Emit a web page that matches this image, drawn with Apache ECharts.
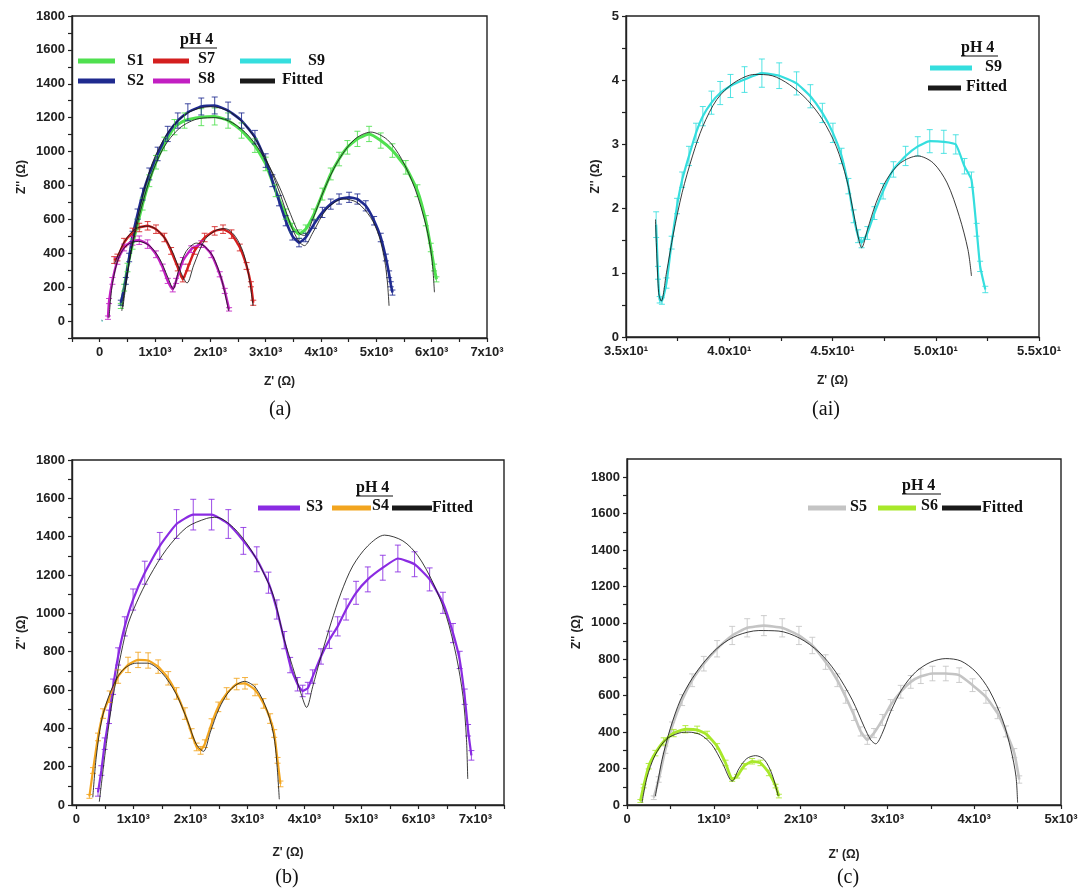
<!DOCTYPE html>
<html><head><meta charset="utf-8">
<script src="https://cdn.jsdelivr.net/npm/echarts@6/dist/echarts.min.js"></script>
<style>html,body{margin:0;padding:0;background:#fff}#c{width:1083px;height:893px}</style>
</head><body><div id="c"></div>
<script>
// ---------- Panel (a) data: [Z', Z'', error] ----------
const S1 = [[382,89,15],[442,197,20],[503,316,25],[594,454,30],[685,572,30],[776,690,35],[897,828,35],[1018,937,40],[1170,1045,40],[1352,1144,45],[1533,1183,45],[1836,1203,50],[2079,1207,50],[2321,1183,45],[2564,1124,45],[2806,1035,40],[3000,927,40],[3181,769,35],[3362,631,30],[3482,552,25],[3603,513,25],[3724,542,25],[3874,631,30],[4025,749,35],[4176,868,35],[4327,956,40],[4477,1025,40],[4658,1075,45],[4869,1104,45],[5080,1065,45],[5291,1006,40],[5532,907,40],[5743,769,35],[5894,592,30],[5984,434,25],[6044,316,20],[6086,246,15]];
const S2 = [[382,108,15],[473,237,20],[533,375,25],[594,500,30],[685,631,30],[776,749,35],[897,868,35],[1048,986,40],[1230,1104,45],[1412,1183,45],[1594,1232,50],[1836,1266,50],[2079,1272,50],[2321,1242,50],[2564,1183,45],[2806,1085,40],[3000,947,40],[3121,828,35],[3241,710,30],[3362,592,30],[3482,503,25],[3603,463,25],[3724,493,25],[3874,572,25],[4025,641,30],[4176,690,30],[4327,720,30],[4508,730,30],[4658,720,30],[4809,680,30],[4960,592,25],[5080,493,25],[5171,375,20],[5231,276,20],[5261,217,15],[5291,168,15]];
const S7 = [[262,360,20],[321,375,20],[442,463,25],[594,523,25],[715,552,25],[867,562,25],[1018,542,25],[1170,493,25],[1291,414,20],[1412,316,20],[1503,246,15],[1594,316,20],[1715,414,20],[1897,493,25],[2079,532,25],[2230,542,25],[2382,513,25],[2533,434,20],[2655,325,20],[2733,217,15],[2776,108,15]];
const S8 = [[150,20,10],[170,118,15],[230,237,20],[321,355,20],[442,434,20],[594,473,25],[715,477,25],[867,454,25],[1018,394,20],[1139,316,20],[1230,237,15],[1321,187,15],[1382,237,15],[1503,355,20],[1655,424,20],[1836,454,20],[2018,394,20],[2170,276,15],[2261,178,15],[2339,69,10]];
const F1 = [[400,60],[520,330],[700,600],[900,830],[1150,1020],[1450,1140],[1800,1195],[2100,1200],[2400,1170],[2700,1090],[3000,950],[3250,790],[3450,630],[3600,520],[3700,505],[3850,600],[4050,770],[4300,940],[4600,1070],[4900,1115],[5200,1070],[5450,960],[5700,780],[5900,560],[6000,380],[6050,170]];
const F2 = [[420,80],[550,380],[720,660],[950,930],[1250,1120],[1600,1230],[2000,1265],[2350,1235],[2700,1130],[3000,960],[3250,760],[3450,570],[3600,470],[3700,445],[3850,520],[4100,660],[4400,720],[4650,700],[4900,610],[5050,500],[5150,360],[5200,230],[5230,90]];
const F7 = [[270,340],[450,470],[650,545],[880,560],[1100,520],[1300,420],[1450,300],[1580,225],[1700,330],[1900,480],[2100,535],[2270,545],[2450,500],[2600,400],[2700,260],[2770,90]];
const F8 = [[170,20],[230,220],[350,380],[500,450],[700,470],[900,445],[1080,370],[1230,260],[1330,190],[1420,290],[1560,410],[1750,460],[1900,440],[2050,380],[2200,250],[2330,60]];

// ---------- Panel (ai) data ----------
const S9 = [[36.46,1.75,0.2],[36.55,1.0,0.1],[36.63,0.58,0.05],[36.74,0.56,0.05],[36.96,0.84,0.08],[37.21,1.47,0.1],[37.47,2.04,0.12],[37.72,2.45,0.12],[38.05,2.82,0.15],[38.39,3.18,0.15],[38.72,3.44,0.15],[39.14,3.65,0.18],[39.56,3.80,0.18],[40.06,3.91,0.18],[40.74,4.01,0.2],[41.58,4.11,0.22],[42.42,4.07,0.2],[43.26,3.95,0.18],[43.93,3.75,0.18],[44.51,3.49,0.15],[45.02,3.18,0.15],[45.44,2.82,0.12],[45.77,2.35,0.12],[46.02,1.88,0.1],[46.24,1.57,0.1],[46.41,1.47,0.08],[46.69,1.62,0.1],[47.03,1.93,0.1],[47.45,2.27,0.12],[47.95,2.61,0.12],[48.54,2.82,0.15],[49.13,2.97,0.15],[49.71,3.05,0.18],[50.39,3.04,0.18],[50.97,3.00,0.15],[51.39,2.66,0.12],[51.73,2.45,0.12],[51.98,1.67,0.1],[52.15,1.10,0.08],[52.40,0.74,0.05]];
const F9 = [[36.43,1.83],[36.58,0.69],[36.71,0.56],[36.96,1.00],[37.30,1.62],[37.72,2.25],[38.22,2.82],[38.72,3.28],[39.40,3.70],[40.23,3.96],[41.24,4.09],[42.08,4.07],[42.92,3.93],[43.76,3.70],[44.51,3.39],[45.18,2.97],[45.69,2.45],[46.02,1.93],[46.27,1.52],[46.41,1.39],[46.69,1.67],[47.11,2.09],[47.62,2.45],[48.29,2.71],[49.13,2.82],[49.88,2.71],[50.55,2.40],[51.14,1.88],[51.56,1.36],[51.73,0.95]];

// ---------- Panel (b) data ----------
const S3 = [[381,66,20],[440,180,25],[498,320,30],[574,460,35],[645,617,40],[733,775,45],[850,932,50],[996,1072,55],[1201,1212,60],[1465,1352,70],[1758,1466,75],[2051,1515,80],[2373,1515,80],[2666,1466,75],[2930,1378,70],[3165,1282,65],[3370,1160,55],[3516,1020,50],[3647,860,45],[3750,730,40],[3880,630,35],[3970,595,30],[4060,610,30],[4145,670,35],[4291,775,40],[4438,862,45],[4584,932,50],[4731,1020,55],[4906,1107,60],[5112,1177,65],[5375,1238,65],[5639,1286,70],[5932,1256,65],[6196,1177,60],[6430,1055,55],[6606,897,50],[6723,757,45],[6811,565,40],[6870,390,30],[6928,259,25]];
const S4 = [[230,45,10],[293,180,15],[381,355,20],[469,477,25],[586,565,30],[733,670,35],[908,731,40],[1084,757,40],[1260,754,40],[1436,722,35],[1612,661,35],[1758,582,30],[1905,477,30],[2022,373,25],[2110,303,20],[2180,285,20],[2256,320,20],[2373,425,25],[2490,512,25],[2637,582,30],[2813,631,30],[2959,635,30],[3135,600,30],[3282,530,25],[3399,451,25],[3471,373,20],[3529,233,15],[3580,110,15]];
const F3 = [[404,17],[527,320],[645,565],[879,915],[1055,1055],[1289,1195],[1582,1334],[1934,1448],[2285,1495],[2461,1501],[2754,1448],[3018,1352],[3252,1230],[3458,1090],[3647,862],[3793,722],[3940,582],[4039,509],[4145,617],[4291,775],[4467,950],[4643,1107],[4848,1247],[5112,1352],[5405,1408],[5727,1378],[5991,1300],[6255,1160],[6489,985],[6665,775],[6782,565],[6840,355],[6864,136]];
const F4 = [[290,40],[350,250],[450,450],[600,590],[800,700],[1050,740],[1250,740],[1500,690],[1750,580],[1950,440],[2100,320],[2230,280],[2350,380],[2500,500],[2700,600],[2950,645],[3150,610],[3350,490],[3480,330],[3560,30]];

// ---------- Panel (c) data ----------
const S5 = [[308,40,10],[365,140,15],[442,304,20],[519,431,25],[635,576,30],[750,685,35],[885,776,40],[1038,858,45],[1212,931,50],[1385,973,50],[1577,985,55],[1788,973,50],[1981,931,50],[2135,876,45],[2288,785,40],[2423,685,35],[2519,594,35],[2615,494,30],[2692,404,25],[2769,358,25],[2846,395,25],[2942,467,30],[3038,549,30],[3154,622,35],[3269,676,35],[3385,707,40],[3519,722,40],[3673,722,40],[3827,713,40],[3981,658,35],[4135,594,35],[4269,504,30],[4365,404,30],[4462,285,25],[4519,140,20]];
const S6 = [[154,22,8],[192,104,10],[250,213,15],[327,285,15],[423,349,20],[538,395,20],[673,416,20],[808,413,20],[923,385,20],[1038,322,15],[1135,231,15],[1212,140,10],[1269,158,10],[1346,213,15],[1442,240,15],[1538,231,15],[1635,176,15],[1712,104,10],[1750,49,10]];
const F5 = [[327,49],[404,249],[500,422],[615,576],[750,694],[904,794],[1077,876],[1269,931],[1519,958],[1750,955],[1981,918],[2212,840],[2404,731],[2596,576],[2731,431],[2808,358],[2865,336],[2942,395],[3038,513],[3173,640],[3327,731],[3500,785],[3673,804],[3846,791],[4019,731],[4173,631],[4327,467],[4423,304],[4481,158],[4500,13]];
const F6 = [[173,13],[230,150],[320,270],[450,360],[600,395],[712,400],[850,385],[980,330],[1100,230],[1212,131],[1290,200],[1380,255],[1481,271],[1580,250],[1670,170],[1742,49]];

// ---------- Tick values ----------
const XLAB_A = [0,1000,2000,3000,4000,5000,6000,7000];
const XTICK_A = [-500,0,500,1000,1500,2000,2500,3000,3500,4000,4500,5000,5500,6000,6500,7000];
const YLAB_A = [0,200,400,600,800,1000,1200,1400,1600,1800];
const YTICK_A = [-100,0,100,200,300,400,500,600,700,800,900,1000,1100,1200,1300,1400,1500,1600,1700,1800];
const XLAB_AI = [35,40,45,50,55];
const XTICK_AI = [35,37.5,40,42.5,45,47.5,50,52.5,55];
const YLAB_AI = [0,1,2,3,4,5];
const YTICK_AI = [0,0.5,1,1.5,2,2.5,3,3.5,4,4.5,5];
const XLAB_B = [0,1000,2000,3000,4000,5000,6000,7000];
const XTICK_B = [0,500,1000,1500,2000,2500,3000,3500,4000,4500,5000,5500,6000,6500,7000,7500];
const YLAB_B = [0,200,400,600,800,1000,1200,1400,1600,1800];
const YTICK_B = [0,100,200,300,400,500,600,700,800,900,1000,1100,1200,1300,1400,1500,1600,1700,1800];
const XLAB_C = [0,1000,2000,3000,4000,5000];
const XTICK_C = [0,500,1000,1500,2000,2500,3000,3500,4000,4500,5000];
const YLAB_C = [0,200,400,600,800,1000,1200,1400,1600,1800];
const YTICK_C = [0,100,200,300,400,500,600,700,800,900,1000,1100,1200,1300,1400,1500,1600,1700,1800];

const COL = {S1:'#4fe04f', S2:'#1f2a8f', S7:'#d41f1f', S8:'#c21fc2', S9:'#35dede', S3:'#8a2be2', S4:'#f2a51f', S5:'#c4c4c4', S6:'#a8e82a', FIT:'#1a1a1a'};

const chart = echarts.init(document.getElementById('c'));
const SANS = '"Liberation Sans", Arial, sans-serif';
const SERIF = '"Liberation Serif", "Times New Roman", serif';

const grids = [
  {left:72, top:16, width:415, height:322},
  {left:626, top:16, width:413, height:321},
  {left:72, top:460, width:432, height:345},
  {left:627, top:459, width:434, height:346}
].map(g => Object.assign({show:true, borderColor:'#222', borderWidth:1.4, backgroundColor:'rgba(0,0,0,0)'}, g));

const fmtK = v => v === 0 ? '0' : (v/1000) + 'x10³';
const fmtAI = v => (v/10).toFixed(1) + 'x10¹';
const fmtPlain = v => String(v);

function xAx(gi, min, max, labs, ticks, fmt, gap) {
  return {type:'value', gridIndex:gi, min, max, name:"Z' (Ω)", nameLocation:'middle', nameGap:gap,
    nameTextStyle:{fontFamily:SANS, fontWeight:'bold', fontSize:12, color:'#222'},
    axisLine:{show:true, onZero:false, lineStyle:{color:'#222', width:1.4}},
    axisTick:{show:true, length:4, customValues:ticks, lineStyle:{color:'#222', width:1.2}},
    axisLabel:{customValues:labs, formatter:fmt, fontFamily:SANS, fontWeight:'bold', fontSize:13, color:'#222', margin:8},
    splitLine:{show:false}};
}
function yAx(gi, min, max, labs, ticks, gap) {
  return {type:'value', gridIndex:gi, min, max, name:"Z'' (Ω)", nameLocation:'middle', nameGap:gap,
    nameTextStyle:{fontFamily:SANS, fontWeight:'bold', fontSize:12, color:'#222'},
    axisLine:{show:true, onZero:false, lineStyle:{color:'#222', width:1.4}},
    axisTick:{show:true, length:4, customValues:ticks, lineStyle:{color:'#222', width:1.2}},
    axisLabel:{customValues:labs, formatter:fmtPlain, fontFamily:SANS, fontWeight:'bold', fontSize:13, color:'#222', margin:7},
    splitLine:{show:false}};
}

const series = [];
function dataLine(name, arr, color, width, gi, bars) {
  series.push({type:'line', name, xAxisIndex:gi, yAxisIndex:gi, data:arr.map(p => [p[0], p[1]]),
    showSymbol:false, smooth:0.15, lineStyle:{color, width}, itemStyle:{color}, z:3, silent:true, clip:true});
  if (bars) {
    series.push({type:'custom', xAxisIndex:gi, yAxisIndex:gi, data:arr, encode:{x:0, y:1}, z:4, silent:true, clip:true,
      renderItem:(params, api) => {
        const x = api.value(0), y = api.value(1), e = api.value(2);
        const a = api.coord([x, y + e]), b = api.coord([x, y - e]);
        const w = 3, st = {stroke:color, lineWidth:1, opacity:0.85};
        return {type:'group', children:[
          {type:'line', shape:{x1:a[0], y1:a[1], x2:b[0], y2:b[1]}, style:st},
          {type:'line', shape:{x1:a[0]-w, y1:a[1], x2:a[0]+w, y2:a[1]}, style:st},
          {type:'line', shape:{x1:b[0]-w, y1:b[1], x2:b[0]+w, y2:b[1]}, style:st}
        ]};
      }});
  }
}
function fitLine(arr, gi) {
  series.push({type:'line', name:'Fitted', xAxisIndex:gi, yAxisIndex:gi, data:arr, showSymbol:false, smooth:0.3,
    lineStyle:{color:COL.FIT, width:1, opacity:0.85}, z:5, silent:true, clip:true});
}

// (a)
dataLine('S1', S1, COL.S1, 3, 0, true);
dataLine('S2', S2, COL.S2, 2.6, 0, true);
dataLine('S7', S7, COL.S7, 2.4, 0, true);
dataLine('S8', S8, COL.S8, 2.4, 0, true);
dataLine('S9', S9, COL.S9, 2.4, 0, false);
fitLine(F1, 0); fitLine(F2, 0); fitLine(F7, 0); fitLine(F8, 0); fitLine(F9, 0);
// (ai)
dataLine('S9', S9, COL.S9, 2.2, 1, true);
fitLine(F9, 1);
// (b)
dataLine('S3', S3, COL.S3, 2.2, 2, true);
dataLine('S4', S4, COL.S4, 2.2, 2, true);
fitLine(F3, 2); fitLine(F4, 2);
// (c)
dataLine('S5', S5, COL.S5, 2.6, 3, true);
dataLine('S6', S6, COL.S6, 2.8, 3, true);
fitLine(F5, 3); fitLine(F6, 3);

// legends as graphics
const G = [];
function lgLine(x, y, w, color) { G.push({type:'rect', shape:{x, y:y-2.5, width:w, height:5}, style:{fill:color}, silent:true}); }
function lgText(x, y, t) { G.push({type:'text', x, y, style:{text:t, font:'bold 16px ' + SERIF, fill:'#111', textVerticalAlign:'middle'}, silent:true}); }
function lgTitle(x, y, w) {
  G.push({type:'text', x, y, style:{text:'pH 4', font:'bold 16px ' + SERIF, fill:'#111', textVerticalAlign:'middle'}, silent:true});
  G.push({type:'line', shape:{x1:x, y1:y+8, x2:x+w, y2:y+8}, style:{stroke:'#111', lineWidth:1.2}, silent:true});
}
// (a)
lgTitle(180, 40, 37);
lgLine(78, 61, 37, COL.S1); lgText(127, 61, 'S1');
lgLine(153, 61, 36, COL.S7); lgText(198, 59, 'S7');
lgLine(240, 61, 51, COL.S9); lgText(308, 61, 'S9');
lgLine(78, 81, 37, COL.S2); lgText(127, 81, 'S2');
lgLine(153, 81, 37, COL.S8); lgText(198, 79, 'S8');
lgLine(240, 81, 35, COL.FIT); lgText(282, 80, 'Fitted');
// (ai)
lgTitle(961, 48, 37);
lgLine(930, 68, 42, COL.S9); lgText(985, 67, 'S9');
lgLine(928, 88, 33, COL.FIT); lgText(966, 87, 'Fitted');
// (b)
lgTitle(356, 488, 37);
lgLine(258, 508, 42, COL.S3); lgText(306, 507, 'S3');
lgLine(332, 508, 39, COL.S4); lgText(372, 506, 'S4');
lgLine(392, 508, 40, COL.FIT); lgText(432, 508, 'Fitted');
// (c)
lgTitle(902, 486, 39);
lgLine(808, 508, 38, COL.S5); lgText(850, 507, 'S5');
lgLine(878, 508, 38, COL.S6); lgText(921, 506, 'S6');
lgLine(942, 508, 39, COL.FIT); lgText(982, 508, 'Fitted');
// panel labels
[['(a)', 280, 410], ['(ai)', 826, 410], ['(b)', 287, 878], ['(c)', 848, 878]].forEach(l =>
  G.push({type:'text', x:l[1], y:l[2], style:{text:l[0], font:'20px ' + SERIF, fill:'#111', textAlign:'center', textVerticalAlign:'middle'}, silent:true}));

chart.setOption({
  animation:false,
  backgroundColor:'#fff',
  grid: grids,
  xAxis: [
    xAx(0, -500, 7000, XLAB_A, XTICK_A, fmtK, 38),
    xAx(1, 35, 55, XLAB_AI, XTICK_AI, fmtAI, 38),
    xAx(2, -75, 7500, XLAB_B, XTICK_B, fmtK, 42),
    xAx(3, 0, 5000, XLAB_C, XTICK_C, fmtK, 44)
  ],
  yAxis: [
    yAx(0, -100, 1800, YLAB_A, YTICK_A, 44),
    yAx(1, 0, 5, YLAB_AI, YTICK_AI, 24),
    yAx(2, 0, 1800, YLAB_B, YTICK_B, 44),
    yAx(3, 0, 1900, YLAB_C, YTICK_C, 44)
  ],
  series,
  graphic: G
});
</script></body></html>
